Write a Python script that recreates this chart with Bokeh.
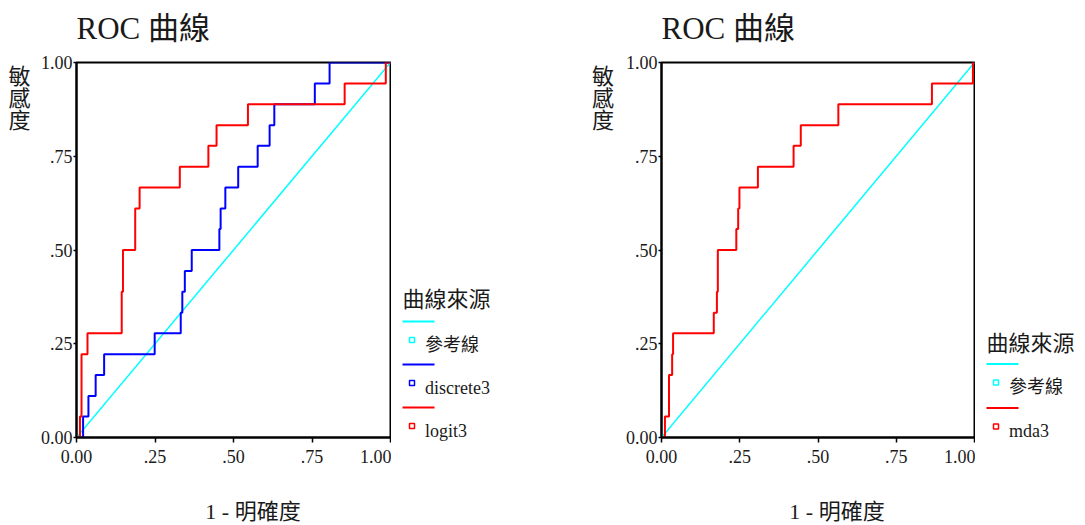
from bokeh.plotting import figure
from bokeh.models import Range1d, FixedTicker, CustomJSTickFormatter
from bokeh.layouts import row, column
from bokeh.core.properties import value
from bokeh.embed import file_html
from bokeh.resources import INLINE

# ---------------- data ----------------
tick_vals = [0.0, 0.25, 0.5, 0.75, 1.0]
tick_labels = ["0.00", ".25", ".50", ".75", "1.00"]

ref_x = [0.0, 1.0]
ref_y = [0.0, 1.0]

# ROC operating points (1 - specificity, sensitivity), drawn as step curves
discrete3_fpr = [0.0, 0.021, 0.038, 0.061, 0.088, 0.249, 0.332, 0.337, 0.345, 0.367,
                 0.455, 0.459, 0.474, 0.515, 0.577, 0.615, 0.630, 0.759, 0.806, 1.0]
discrete3_tpr = [0.0, 0.056, 0.111, 0.167, 0.222, 0.278, 0.333, 0.389, 0.444, 0.5,
                 0.556, 0.611, 0.667, 0.722, 0.778, 0.833, 0.889, 0.944, 1.0, 1.0]

logit3_fpr = [0.0, 0.011, 0.016, 0.035, 0.144, 0.148, 0.187, 0.201, 0.329, 0.420,
              0.446, 0.546, 0.854, 0.985, 1.0]
logit3_tpr = [0.0, 0.056, 0.222, 0.278, 0.389, 0.5, 0.611, 0.667, 0.722, 0.778,
              0.833, 0.889, 0.944, 1.0, 1.0]

mda3_fpr = [0.0, 0.011, 0.024, 0.034, 0.037, 0.167, 0.177, 0.180, 0.239, 0.245,
            0.249, 0.308, 0.422, 0.445, 0.565, 0.864, 0.995, 1.0]
mda3_tpr = [0.0, 0.056, 0.167, 0.222, 0.278, 0.333, 0.389, 0.5, 0.556, 0.611,
            0.667, 0.722, 0.778, 0.833, 0.889, 0.944, 1.0, 1.0]

title_text = "ROC 曲線"
y_label_chars = ["敏", "感", "度"]
x_label_text = "1 - 明確度"
legend_title = "曲線來源"
ref_name = "參考線"

CYAN = "#00FFFF"
BLUE = "#0000FF"
RED = "#FF0000"
SERIF = "Liberation Serif, Noto Sans CJK TC"
TXT = "#1a1a1a"

W, H = 1085, 525
TOP_STRIP = 50          # canvas rows 0..50   : titles
BOTTOM_STRIP = 35       # canvas rows 490..525: x-axis titles
MID_H = H - TOP_STRIP - BOTTOM_STRIP
FRAME_TOP, FRAME_BOTTOM = 62, 437


def roc_figure(width, border_left, curves):
    p = figure(width=width, height=MID_H, x_range=Range1d(0, 1), y_range=Range1d(0, 1),
               output_backend="svg", toolbar_location=None, title=None,
               min_border_left=border_left, min_border_right=1,
               min_border_top=FRAME_TOP - TOP_STRIP,
               min_border_bottom=H - BOTTOM_STRIP - FRAME_BOTTOM)
    p.grid.visible = False
    p.outline_line_color = "black"
    p.outline_line_width = 2
    p.outline_line_alpha = 1
    fmt = CustomJSTickFormatter(args=dict(tvals=tick_vals, tlabs=tick_labels), code="""
        let k = -1;
        for (let j = 0; j < tvals.length; j++) {
            if (Math.abs(tvals[j] - tick) < 1e-9) { k = j; }
        }
        return k >= 0 ? tlabs[k] : "";
    """)
    for ax in (p.xaxis[0], p.yaxis[0]):
        ax.ticker = FixedTicker(ticks=tick_vals)
        ax.formatter = fmt
        ax.axis_line_width = 2
        ax.axis_line_color = "black"
        ax.major_tick_line_color = "black"
        ax.major_tick_line_width = 1.5
        ax.major_tick_in = 0
        ax.minor_tick_line_color = None
        ax.major_label_text_font = SERIF
        ax.major_label_text_font_size = "18px"
        ax.major_label_text_color = TXT
    p.xaxis.major_tick_out = 5
    p.xaxis.major_label_standoff = 7
    p.yaxis.major_tick_out = 3
    p.yaxis.major_label_standoff = 1

    p.line(ref_x, ref_y, line_color=CYAN, line_width=1.5)
    for fx, ty, color in curves:
        p.step(fx, ty, mode="after", line_color=color, line_width=2)
    return p


def pixel_figure(x0, x1, y0, y1):
    # bare canvas covering canvas columns x0..x1 and rows y0..y1 (pixel units, y downward)
    f = figure(width=x1 - x0, height=y1 - y0, x_range=Range1d(x0, x1), y_range=Range1d(y1, y0),
               output_backend="svg", toolbar_location=None, title=None,
               x_axis_type=None, y_axis_type=None, min_border=0, frame_align=False)
    f.outline_line_color = None
    return f


def add_ylabel(f, x):
    f.text([x] * len(y_label_chars), [76, 98, 120], text=y_label_chars,
           text_font=value(SERIF), text_font_size="22px", text_color=TXT,
           text_align="center", text_baseline="middle")


def add_legend(f, x0, title_y, items):
    f.text([x0 + 11], [title_y], text=[legend_title], text_font=value(SERIF),
           text_font_size="22px", text_color=TXT, text_align="left", text_baseline="middle")
    for y0, color, name in items:
        f.segment([x0 + 11], [y0], [x0 + 43], [y0], line_color=color, line_width=2)
        f.scatter([x0 + 20.5], [y0 + 18.5], marker="square", size=5, fill_color="white",
                  line_color=color, line_width=1.5)
        f.text([x0 + 33.5], [y0 + 23], text=[name], text_font=value(SERIF),
               text_font_size="18px", text_color=TXT, text_align="left",
               text_baseline="middle")


y_a, y_b = TOP_STRIP, H - BOTTOM_STRIP

# titles strip
top = pixel_figure(0, W, 0, TOP_STRIP)
top.text([76, 661], [28, 28], text=[title_text, title_text], text_font=value(SERIF),
         text_font_size="31px", text_color=TXT, text_align="left",
         text_baseline="middle")

# left y-label strip (canvas x 0..36)
ylab_left = pixel_figure(0, 36, y_a, y_b)
add_ylabel(ylab_left, 19)

left = roc_figure(355, 40, [(discrete3_fpr, discrete3_tpr, BLUE),
                            (logit3_fpr, logit3_tpr, RED)])

# middle strip (canvas x 391..620): left legend + right chart's y-label
mid = pixel_figure(391, 620, y_a, y_b)
add_legend(mid, 391, 299, [(321, CYAN, ref_name), (364, BLUE, "discrete3"),
                           (407, RED, "logit3")])
add_ylabel(mid, 602.5)

right = roc_figure(355, 41, [(mda3_fpr, mda3_tpr, RED)])

# right strip (canvas x 975..1085): right legend
right_leg = pixel_figure(975, W, y_a, y_b)
add_legend(right_leg, 975, 342.5, [(363.5, CYAN, ref_name), (407.5, RED, "mda3")])

# x-axis titles strip
bottom = pixel_figure(0, W, H - BOTTOM_STRIP, H)
bottom.text([252.5, 836.5], [511, 511], text=[x_label_text, x_label_text],
            text_font=value(SERIF), text_font_size="22px", text_color=TXT,
            text_align="center", text_baseline="middle")

layout = column(top, row(ylab_left, left, mid, right, right_leg), bottom)
open("out.html", "w").write(file_html(layout, INLINE))
